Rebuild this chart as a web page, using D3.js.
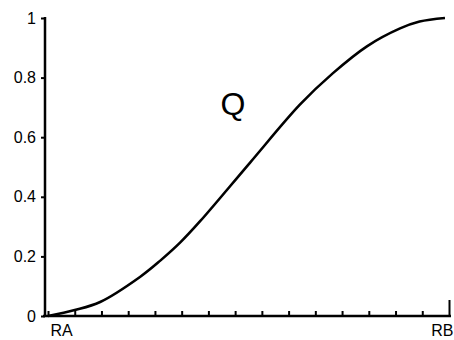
<!DOCTYPE html>
<html>
<head>
<meta charset="utf-8">
<script src="https://cdn.jsdelivr.net/npm/d3@7"></script>
<style>
  body { margin: 0; background: #fff; }
  svg { display: block; }
  .axis text { font-family: "Liberation Sans", Arial, sans-serif; font-size: 16px; fill: #000; }
</style>
</head>
<body>
<div id="chart"></div>
<script>
// curve Q (x in tick intervals from RA to RB)
const qX = [0, 1, 1.95, 3.44, 4.19, 4.94, 5.69, 7.56, 9.43, 10.66, 11.93, 13.17, 13.9, 14.85];
const qY = [0, 0.02, 0.047, 0.131, 0.185, 0.246, 0.318, 0.515, 0.71, 0.815, 0.905, 0.965, 0.988, 1.0];
const yTicks = [0, 0.2, 0.4, 0.6, 0.8, 1];
const xTicks = d3.range(0, 16);
const xLabels = {0: "RA", 15: "RB"};
const curveLabel = "Q";

const width = 454, height = 340;

const svg = d3.select("#chart")
  .append("svg")
  .attr("width", width)
  .attr("height", height);

const x = d3.scaleLinear().domain([0, 15]).range([48, 449]);
const y = d3.scaleLinear().domain([0, 1]).range([316, 18]);

// y axis
const yAxis = svg.append("g")
  .attr("class", "axis")
  .attr("transform", "translate(45,0)")
  .call(d3.axisLeft(y).tickValues(yTicks).tickFormat(d3.format("~g")).tickSize(4).tickSizeOuter(0));
yAxis.select(".domain").attr("stroke", "#000").attr("stroke-width", 2.5)
  .attr("d", "M0," + y(0) + "V" + (y(1) - 1));
yAxis.selectAll(".tick line").attr("stroke-width", 2);
yAxis.selectAll(".tick text").attr("x", -9).attr("dy", "0.32em");

// x axis, ticks pointing up
const xAxis = svg.append("g")
  .attr("class", "axis")
  .attr("transform", "translate(0," + y(0) + ")")
  .call(d3.axisBottom(x).tickValues(xTicks).tickSize(-5).tickSizeOuter(0)
    .tickFormat(d => xLabels[d] || ""));
xAxis.select(".domain").attr("stroke", "#000").attr("stroke-width", 2.5)
  .attr("d", "M43,0H451");
xAxis.selectAll(".tick line").attr("stroke-width", 2);
xAxis.selectAll(".tick").filter(d => d === 15).select("line").attr("y2", -16);
xAxis.selectAll(".tick text")
  .attr("y", 9)
  .attr("dy", "0.71em")
  .attr("text-anchor", d => d === 0 ? "start" : "end")
  .attr("dx", d => d === 0 ? 2 : 4);

// the curve
const pts = qX.map((v, i) => [v, qY[i]]);
const line = d3.line()
  .x(d => x(d[0]))
  .y(d => y(d[1]))
  .curve(d3.curveCatmullRom.alpha(0.5));

svg.append("path")
  .attr("d", line(pts))
  .attr("fill", "none")
  .attr("stroke", "#000")
  .attr("stroke-width", 2.6);

svg.append("text")
  .attr("x", 233)
  .attr("y", 115)
  .attr("text-anchor", "middle")
  .attr("font-family", "Liberation Sans, Arial, sans-serif")
  .attr("font-size", 32)
  .text(curveLabel);
</script>
</body>
</html>
